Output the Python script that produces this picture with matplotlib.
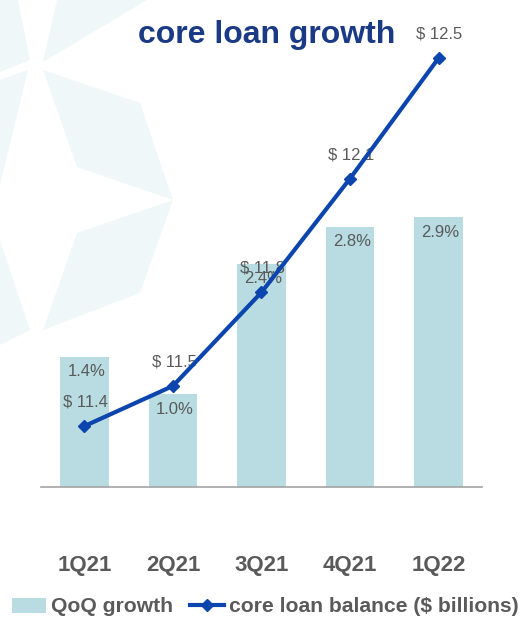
import matplotlib
matplotlib.use("Agg")
import matplotlib.pyplot as plt
from matplotlib.patches import Polygon, Patch
from matplotlib.lines import Line2D

plt.rcParams['font.family'] = ['Liberation Sans', 'DejaVu Sans']

# data
quarters = ["1Q21", "2Q21", "3Q21", "4Q21", "1Q22"]
qoq_growth = [1.4, 1.0, 2.4, 2.8, 2.9]
loan_balance = [11.40, 11.52, 11.80, 12.14, 12.50]
balance_labels = ["$ 11.4", "$ 11.5", "$ 11.8", "$ 12.1", "$ 12.5"]
growth_labels = ["1.4%", "1.0%", "2.4%", "2.8%", "2.9%"]

bar_color = "#b8dce2"
line_color = "#0b45ad"
title_color = "#1b3a85"
label_gray = "#5a5a5a"

W, H = 528, 622
fig = plt.figure(figsize=(W / 100, H / 100), dpi=100)
fig.patch.set_facecolor("white")

# faint star decoration in the background (pixel coords, y from top)
star_shapes = [
    [(57, 0), (147, 0), (43, 62)],
    [(0, 0), (18, 0), (30, 60), (0, 72)],
    [(43, 70), (140, 103), (173, 200), (77, 167)],
    [(77, 233), (173, 200), (140, 293), (43, 330)],
    [(0, 80), (28, 70), (0, 185)],
    [(0, 240), (30, 330), (0, 345)],
]
for shp in star_shapes:
    pts = [(x / W, 1 - y / H) for x, y in shp]
    fig.patches.append(Polygon(pts, closed=True, transform=fig.transFigure,
                               facecolor="#f0f7f9", edgecolor="none", zorder=0))

ax_left, ax_right, ax_bottom, ax_top = 41, 482, 487, 40
ax = fig.add_axes([ax_left / W, 1 - ax_bottom / H, (ax_right - ax_left) / W,
                   (ax_bottom - ax_top) / H])
ax.patch.set_alpha(0)
x = list(range(len(quarters)))

bars = ax.bar(x, qoq_growth, width=0.55, color=bar_color, zorder=2)
ax.set_xlim(-0.49, 4.49)
ax.set_ylim(0, 4.81)
for xi, v, lab in zip(x, qoq_growth, growth_labels):
    ax.annotate(lab, (xi, v), xytext=(2, -15), textcoords="offset pixels",
                ha="center", va="center", fontsize=12, color=label_gray, zorder=3)

for s in ["top", "left", "right"]:
    ax.spines[s].set_visible(False)
ax.spines["bottom"].set_color("#a3a3a3")
ax.spines["bottom"].set_linewidth(1.2)
ax.set_yticks([])
ax.set_xticks(x)
ax.set_xticklabels(quarters, fontsize=16, fontweight="bold", color=label_gray)
ax.tick_params(axis="x", length=0, pad=49)

ax2 = ax.twinx()
ax2.plot(x, loan_balance, color=line_color, lw=3, marker="D", markersize=6,
         zorder=4)
ax2.set_ylim(11.218, 12.554)
ax2.set_yticks([])
for s in ["top", "left", "right", "bottom"]:
    ax2.spines[s].set_visible(False)
for xi, v, lab in zip(x, loan_balance, balance_labels):
    ax2.annotate(lab, (xi, v), xytext=(1, 24), textcoords="offset pixels",
                 ha="center", va="center", fontsize=12, color=label_gray)

fig.text(267 / W, 1 - 35 / H, "core loan growth", ha="center", va="center",
         fontsize=23, fontweight="bold", color=title_color)

handles = [Patch(facecolor=bar_color, edgecolor="none"),
           Line2D([0], [0], color=line_color, lw=3, marker="D", markersize=6)]
leg = fig.legend(handles, ["QoQ growth", "core loan balance ($ billions)"],
                 loc="center left", bbox_to_anchor=(12 / W, 1 - 607 / H), ncol=2,
                 frameon=False, handlelength=1.6, handletextpad=0.25,
                 columnspacing=0.8, borderaxespad=0, borderpad=0,
                 prop={"size": 15.2, "weight": "bold"})
for t in leg.get_texts():
    t.set_color(label_gray)

fig.savefig("out.png", dpi=100)
